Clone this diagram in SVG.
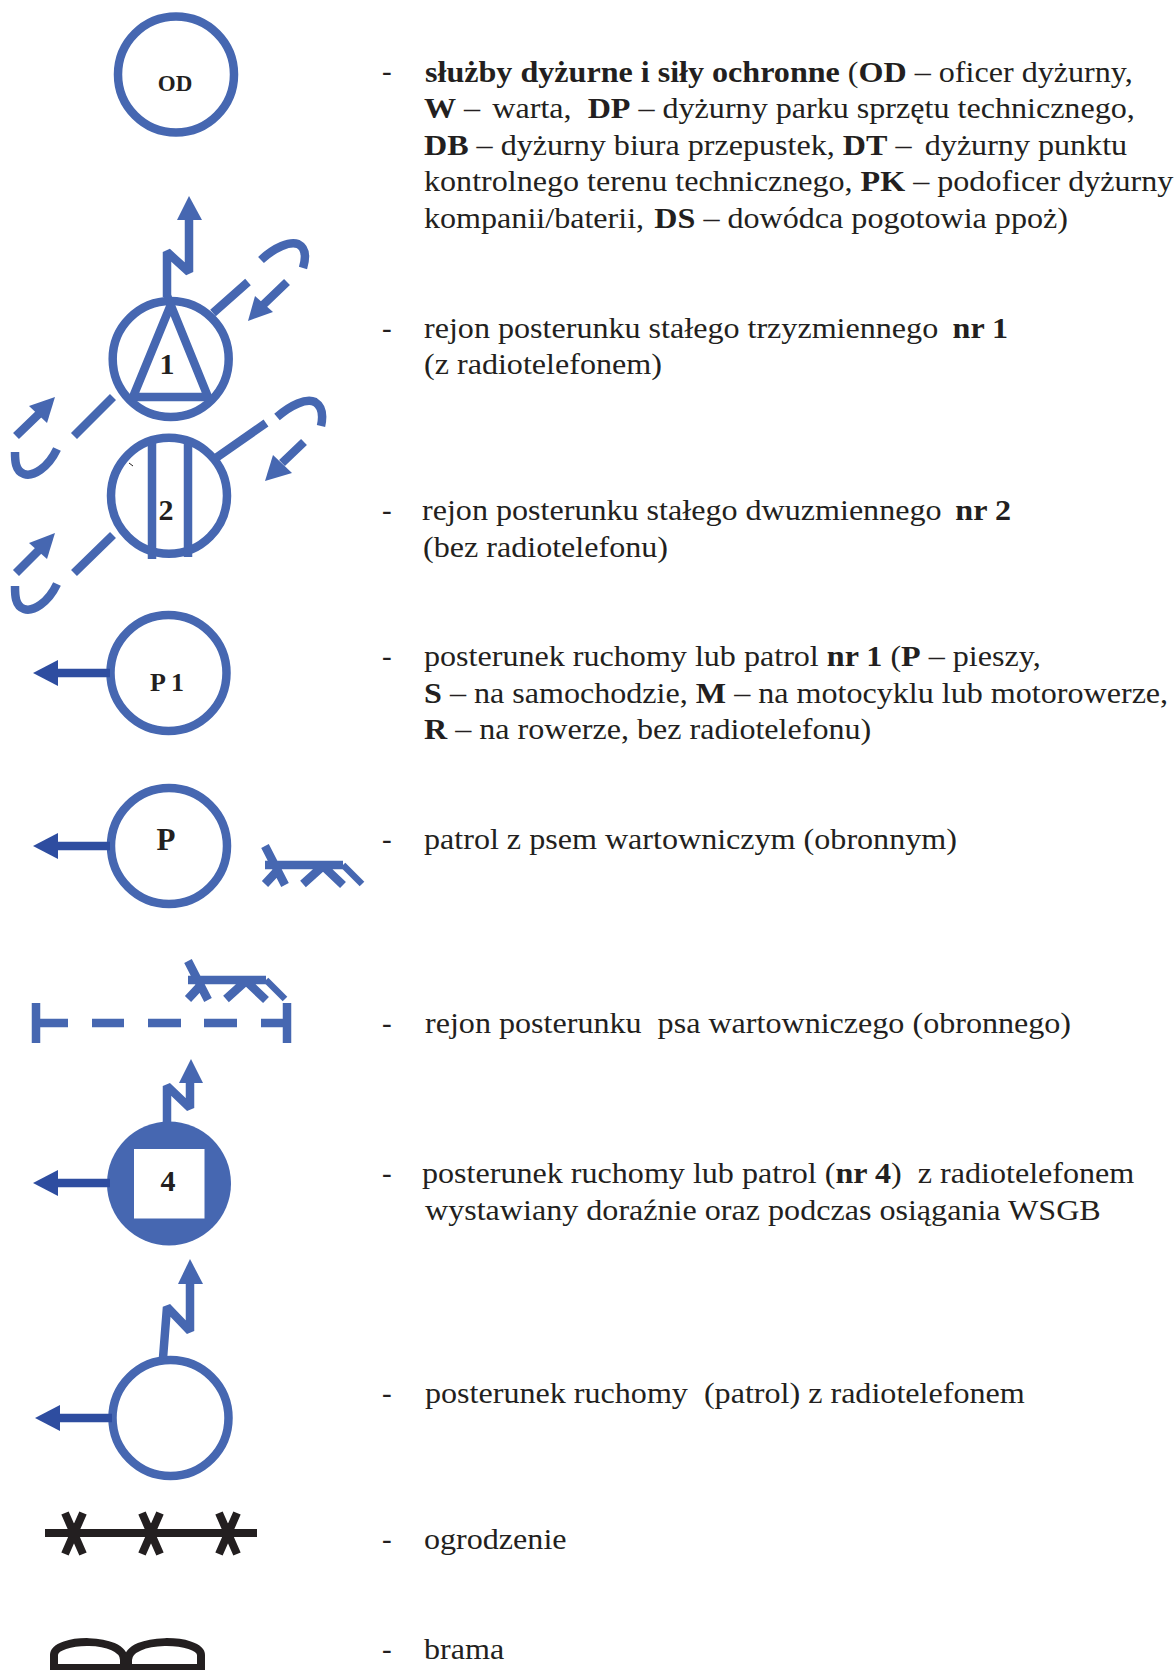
<svg xmlns="http://www.w3.org/2000/svg" width="1176" height="1670" viewBox="0 0 1176 1670">
<style>
.t{font-family:"Liberation Serif","Times New Roman",serif;font-size:29px;fill:#231f20;white-space:pre}
.b{font-weight:bold}
.n{font-family:"Liberation Serif","Times New Roman",serif;font-weight:bold;fill:#231f20;text-anchor:middle}
.c{fill:#fff;stroke:#4667b1;stroke-width:8.500}
.l{fill:none;stroke:#4667b1;stroke-width:8.500;stroke-linejoin:bevel}
.m{fill:none;stroke:#4667b1;stroke-width:8.500}
.h{fill:#4667b1}
.d{fill:none;stroke:#2e4da0;stroke-width:8.500}
.dh{fill:#2e4da0}
.k{fill:none;stroke:#231f20;stroke-width:8}
</style>
<defs>
<g id="dog"><path class="l" d="M265 865H343M265 846L285 885M265 884L278 870M303 884L323 866L343 885"/><path class="l" style="stroke-width:6.500" d="M343 865L362 884"/></g>
<g id="la"><path class="d" d="M110 0H57"/><path class="dh" d="M33 0L58 -13V13Z"/></g>
</defs>
<g id="node-od"><circle class="c" cx="176" cy="74.500" r="58"/><text class="n" x="175" y="91" font-size="23">OD</text></g>
<g id="node-1"><circle class="c" cx="170.700" cy="359" r="58"/><path class="m" d="M170.700 305L133 397H208Z"/><text class="n" x="167" y="374" font-size="30">1</text></g>
<g id="node-2"><circle class="c" cx="169" cy="495.700" r="58"/><path class="l" d="M152 443V559M188 443V557"/><text class="n" x="166" y="520" font-size="30">2</text><path d="M129 463L133 466" stroke="#231f20" stroke-width="1"/></g>
<g id="node-p1"><circle class="c" cx="168.500" cy="673" r="58"/><text class="n" x="167" y="691" font-size="26">P 1</text></g>
<g id="node-p"><circle class="c" cx="169" cy="846" r="58"/><text class="n" x="166" y="850" font-size="31">P</text></g>
<g id="dog-1"><use href="#dog"/></g>
<g id="dog-2"><use href="#dog" x="-77" y="115"/></g>
<g id="post-region"><path class="l" d="M36 1003V1043M287 1003V1043M36 1023H68M92 1023H124M148 1023H181M204 1023H237M261 1023H287"/></g>
<g id="node-4"><circle cx="169" cy="1183.500" r="62" fill="#4667b1"/><rect x="134" y="1149" width="70.500" height="69.500" fill="#fff"/><text class="n" x="168" y="1191" font-size="30">4</text></g>
<g id="node-r"><circle class="c" cx="170.500" cy="1418" r="58"/></g>
<g id="fence"><path class="k" d="M45 1533H257M65 1513L83 1554M83 1513L65 1554M142 1513L160 1554M160 1513L142 1554M219 1513L237 1554M237 1513L219 1554"/></g>
<g id="gate"><path class="k" d="M54 1670V1655C54 1638 124 1636 124 1660V1670M128 1670V1660C128 1636 201 1638 201 1655V1670M54 1668H201"/></g>
<g id="connectors">
<path class="l" d="M167 297V252L189 272V217"/><path class="h" d="M189 196L177 220H202Z"/>
<path class="l" d="M213 313L248 282M261 260C275 247 290 241 298 244C306 248 306 258 303 268M287 282L263 305"/><path class="h" d="M248 321L255 296L273 312Z"/>
<path class="l" d="M113 397L74 436M57 449C48 468 33 477 24 474C15 471 15 460 15 452M16 436L43 410"/><path class="h" d="M55 397L29 406L47 423Z"/>
<path class="l" d="M213 460L266 423M277 417C291 405 306 398 315 402C323 407 323 417 321 426M304 442L282 463"/><path class="h" d="M265 481L273 455L292 473Z"/>
<path class="l" d="M113 535L74 573M57 584C48 603 33 612 24 609C15 606 15 595 15 586M16 573L43 546"/><path class="h" d="M55 533L29 543L47 559Z"/>
<use href="#la" y="673"/><use href="#la" y="846"/><use href="#la" y="1183"/><use href="#la" y="1418" x="2"/>
<path class="l" d="M167 1122V1086L190 1108V1083"/><path class="h" d="M191 1059L179 1083H203Z"/>
<path class="l" d="M163 1358L167 1307L190 1331V1284"/><path class="h" d="M190 1259L178 1284H203Z"/>
</g>
<g id="legend">
<text class="t" x="382" y="81">-</text>
<text class="t" transform="translate(425 81.500) scale(1.107 1)"><tspan class="b">służby dyżurne i siły ochronne </tspan>(<tspan class="b">OD</tspan> – oficer dyżurny,</text>
<text class="t" transform="translate(424 118) scale(1.107 1)"><tspan class="b">W</tspan> –  <tspan dx="-3.500">warta,  </tspan><tspan class="b">DP</tspan> – dyżurny parku sprzętu technicznego,</text>
<text class="t" transform="translate(424 154.500) scale(1.107 1)"><tspan class="b">DB</tspan> – dyżurny biura przepustek, <tspan class="b">DT</tspan> –  <tspan dx="-2.500">dyżurny punktu</tspan></text>
<text class="t" transform="translate(424 191) scale(1.107 1)">kontrolnego terenu technicznego, <tspan class="b">PK</tspan> – podoficer dyżurny</text>
<text class="t" transform="translate(424 227.500) scale(1.107 1)">kompanii/baterii, <tspan class="b" dx="2">DS</tspan> – dowódca pogotowia ppoż)</text>
<text class="t" x="382" y="338">-</text>
<text class="t" transform="translate(424 337.500) scale(1.107 1)">rejon posterunku stałego trzyzmiennego  <tspan class="b" dx="-1.500">nr 1</tspan></text>
<text class="t" transform="translate(424 374) scale(1.107 1)">(z radiotelefonem)</text>
<text class="t" x="382" y="520">-</text>
<text class="t" transform="translate(422 520) scale(1.107 1)">rejon posterunku stałego dwuzmiennego  <tspan class="b" dx="-2">nr 2</tspan></text>
<text class="t" transform="translate(423 556.500) scale(1.107 1)">(bez radiotelefonu)</text>
<text class="t" x="382" y="666">-</text>
<text class="t" transform="translate(424 666) scale(1.107 1)">posterunek ruchomy lub patrol <tspan class="b">nr 1 </tspan>(<tspan class="b">P</tspan> – pieszy,</text>
<text class="t" transform="translate(424 702.500) scale(1.107 1)"><tspan class="b">S</tspan> – na samochodzie, <tspan class="b">M</tspan> – na motocyklu lub motorowerze,</text>
<text class="t" transform="translate(424 739) scale(1.107 1)"><tspan class="b">R</tspan> – na rowerze, bez radiotelefonu)</text>
<text class="t" x="382" y="849">-</text>
<text class="t" transform="translate(424 849) scale(1.107 1)">patrol z psem wartowniczym (obronnym)</text>
<text class="t" x="382" y="1033">-</text>
<text class="t" transform="translate(425 1033) scale(1.107 1)">rejon posterunku  psa wartowniczego (obronnego)</text>
<text class="t" x="382" y="1183">-</text>
<text class="t" transform="translate(422 1183) scale(1.107 1)">posterunek ruchomy lub patrol (<tspan class="b">nr 4</tspan>)  z radiotelefonem</text>
<text class="t" transform="translate(425 1220) scale(1.107 1)">wystawiany doraźnie oraz podczas osiągania WSGB</text>
<text class="t" x="382" y="1403">-</text>
<text class="t" transform="translate(425 1403) scale(1.107 1)">posterunek ruchomy  (patrol) z radiotelefonem</text>
<text class="t" x="382" y="1549">-</text>
<text class="t" transform="translate(424 1549) scale(1.107 1)">ogrodzenie</text>
<text class="t" x="382" y="1659">-</text>
<text class="t" transform="translate(424 1659) scale(1.107 1)">brama</text>
</g>
</svg>
